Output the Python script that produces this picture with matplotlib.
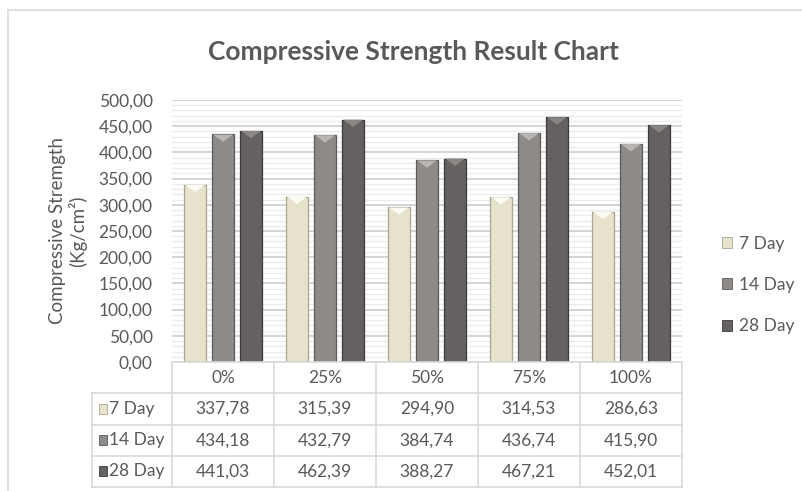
import numpy as np
import matplotlib
matplotlib.use("Agg")
import matplotlib.pyplot as plt
from matplotlib.patches import Patch, Polygon
from matplotlib.lines import Line2D

plt.rcParams['font.family'] = ['Lato', 'DejaVu Sans']

categories = ['0%', '25%', '50%', '75%', '100%']
series = ['7 Day', '14 Day', '28 Day']
day7 = [337.78, 315.39, 294.90, 314.53, 286.63]
day14 = [434.18, 432.79, 384.74, 436.74, 415.90]
day28 = [441.03, 462.39, 388.27, 467.21, 452.01]
values = [day7, day14, day28]

colors = ['#E6E2CC', '#8E8A88', '#656160']
edges = ['#A9A591', '#5E5A58', '#3E3A39']
bevels = ['#FBFAF3', '#B9B5B3', '#8A8684']
text_col = '#595959'
grid_major = '#D4D4D4'
grid_minor = '#ECECEC'

W, H = 803, 491
fig = plt.figure(figsize=(W / 100, H / 100), dpi=100)

# frame of the chart area
fig.add_artist(Line2D([8 / W, 8 / W], [0, 1 - 10 / H], color='#D9D9D9', lw=1.2))
fig.add_artist(Line2D([8 / W, 1], [1 - 10 / H, 1 - 10 / H], color='#D9D9D9', lw=1.2))

ax = fig.add_axes([172 / W, 1 - 362 / H, 510 / W, 262 / H])
x = np.arange(len(categories))
bw = 0.215
step = 0.275
bevel_h = 14
for i, (name, vals) in enumerate(zip(series, values)):
    xs = x + (i - 1) * step
    ax.bar(xs, vals, width=bw, color=colors[i], edgecolor=edges[i], linewidth=0.9, zorder=3)
    for xi, v in zip(xs, vals):
        tri = Polygon([(xi - bw / 2 + 0.01, v), (xi + bw / 2 - 0.01, v), (xi, v - bevel_h)],
                      closed=True, facecolor=bevels[i], edgecolor='none', zorder=4)
        ax.add_patch(tri)

ax.set_xlim(-0.5, len(categories) - 0.5)
ax.set_ylim(0, 500)
ax.set_yticks(np.arange(0, 501, 50))
ax.set_yticks(np.arange(0, 501, 10), minor=True)
ax.set_yticklabels([f'{v:.2f}'.replace('.', ',') for v in np.arange(0, 501, 50)])
ax.grid(True, which='minor', axis='y', color=grid_minor, lw=1.0, zorder=0)
ax.grid(True, which='major', axis='y', color=grid_major, lw=1.4, zorder=1)
ax.set_xticks([])
ax.tick_params(axis='y', which='both', length=0, pad=14, labelsize=12.5, labelcolor=text_col)
for s in ax.spines.values():
    s.set_visible(False)

fig.text(68 / W, 1 - 231 / H, 'Compressive Stremgth\n(Kg/cm²)', rotation=90,
         ha='center', va='center', multialignment='center', fontsize=13.5, color=text_col,
         linespacing=1.1)

fig.text(413 / W, 1 - 52 / H, 'Compressive Strength Result Chart', ha='center', va='center',
         fontsize=19, fontweight='bold', color=text_col)

# data table below the plot
lab_w = 80 / 102
tax = fig.add_axes([92 / W, 1 - 487 / H, 590 / W, 125 / H])
tax.set_xlim(-0.5 - lab_w, len(categories) - 0.5)
tax.set_ylim(4, 0)
tax.axis('off')
lc = '#D9D9D9'
n = len(categories)
tax.plot([-0.5, n - 0.5], [0, 0], color=lc, lw=1.2, clip_on=False)
for r in range(1, 5):
    tax.plot([-0.5 - lab_w, n - 0.5], [r, r], color=lc, lw=1.2, clip_on=False)
tax.plot([-0.5 - lab_w, -0.5 - lab_w], [1, 4], color=lc, lw=1.2, clip_on=False)
for c in range(n + 1):
    tax.plot([c - 0.5, c - 0.5], [0, 4], color=lc, lw=1.2, clip_on=False)
for c, cat in enumerate(categories):
    tax.text(c, 0.5, cat, ha='center', va='center', fontsize=12.5, color=text_col)
for r, (name, vals) in enumerate(zip(series, values)):
    tax.text(-0.5 - lab_w + 0.17, r + 1.5, name, ha='left', va='center', fontsize=12.5, color=text_col)
    tax.add_patch(plt.Rectangle((-0.5 - lab_w + 0.07, r + 1.5 - 0.16), 0.08, 0.32,
                                facecolor=colors[r], edgecolor=edges[r], lw=0.6))
    for c, v in enumerate(vals):
        tax.text(c, r + 1.5, f'{v:.2f}'.replace('.', ','), ha='center', va='center',
                 fontsize=12.5, color=text_col)

handles = [Patch(facecolor=colors[i], edgecolor=edges[i], lw=0.6) for i in range(3)]
fig.legend(handles, series, loc='center left', bbox_to_anchor=(722 / W, 1 - 285 / H),
           frameon=False, fontsize=12.5, labelcolor=text_col, handlelength=0.6,
           handleheight=0.6, handletextpad=0.4, labelspacing=1.45,
           borderpad=0, borderaxespad=0)

fig.savefig('out.png', dpi=100)
